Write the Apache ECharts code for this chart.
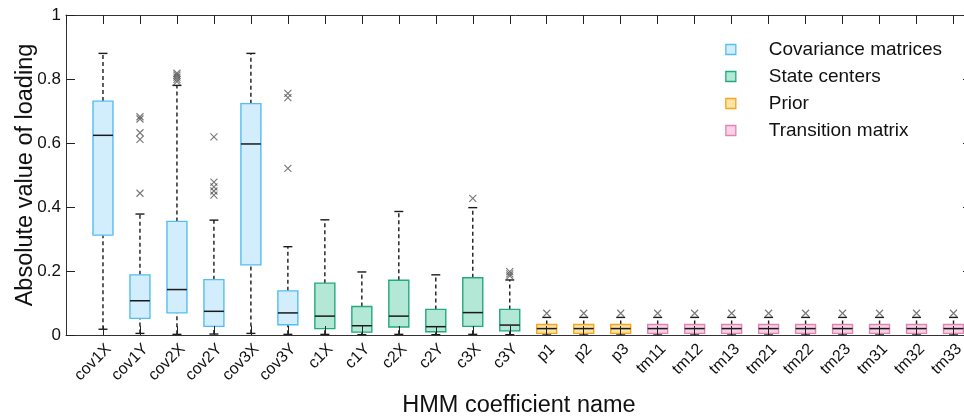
<!DOCTYPE html>
<html><head><meta charset="utf-8">
<script src="https://cdn.jsdelivr.net/npm/echarts@6/dist/echarts.min.js"></script>
<style>html,body{margin:0;padding:0;background:#fff}#c{width:964px;height:416px}</style>
</head><body><div id="c"></div>
<script>
const categories = ['cov1X','cov1Y','cov2X','cov2Y','cov3X','cov3Y','c1X','c1Y','c2X','c2Y','c3X','c3Y','p1','p2','p3','tm11','tm12','tm13','tm21','tm22','tm23','tm31','tm32','tm33'];
const groups = [0,0,0,0,0,0,1,1,1,1,1,1,2,2,2,3,3,3,3,3,3,3,3,3];
const groupNames = ['Covariance matrices','State centers','Prior','Transition matrix'];
const whiskerLow = [0.018,0.005,0.002,0.003,0.005,0.002, 0.002,0.001,0.002,0.001,0.002,0.001, 0,0,0, 0,0,0,0,0,0,0,0,0];
const q1 = [0.312,0.052,0.069,0.027,0.219,0.032, 0.020,0.009,0.025,0.010,0.027,0.013, 0.005,0.005,0.005, 0.005,0.005,0.005,0.005,0.005,0.005,0.005,0.005,0.005];
const median = [0.624,0.107,0.142,0.074,0.597,0.069, 0.059,0.029,0.059,0.026,0.070,0.031, 0.020,0.020,0.020, 0.020,0.020,0.020,0.020,0.020,0.020,0.020,0.020,0.020];
const q3 = [0.731,0.188,0.355,0.173,0.723,0.138, 0.162,0.089,0.171,0.080,0.179,0.080, 0.033,0.033,0.033, 0.033,0.033,0.033,0.033,0.033,0.033,0.033,0.033,0.033];
const whiskerHigh = [0.880,0.378,0.780,0.359,0.880,0.276, 0.360,0.197,0.386,0.188,0.398,0.172, 0.055,0.055,0.055, 0.055,0.055,0.055,0.055,0.055,0.055,0.055,0.055,0.055];
// outliers: [category index (0-based), value]
const outliers = [
  [1,0.682],[1,0.675],[1,0.632],[1,0.611],[1,0.443],
  [2,0.818],[2,0.812],[2,0.806],[2,0.799],[2,0.792],
  [3,0.619],[3,0.478],[3,0.463],[3,0.450],[3,0.437],
  [5,0.755],[5,0.742],[5,0.521],
  [10,0.427],
  [11,0.198],[11,0.191],[11,0.185],
  [12,0.068],[13,0.068],[14,0.068],[15,0.068],[16,0.068],[17,0.068],[18,0.068],[19,0.068],[20,0.068],[21,0.068],[22,0.068],[23,0.068]
];
const yTicks = [0,0.2,0.4,0.6,0.8,1];

const fills = ['#d2eefc','#b4e8d6','#fde4a6','#f9d2e6'];
const edges = ['#55bdf2','#22a97c','#f5a51e','#e283b6'];
const FONT = 'Liberation Sans, Arial, sans-serif';

function renderItem(params, api){
  const x = api.value(0);
  const g = params.seriesIndex;
  const p = v => api.coord([x, v]);
  const cx = p(0)[0];
  const half = api.coord([x+0.27,0])[0] - cx;
  const capHalf = half*0.45;
  const yLo = p(api.value(1))[1], yQ1 = p(api.value(2))[1], yMd = p(api.value(3))[1], yQ3 = p(api.value(4))[1], yHi = p(api.value(5))[1];
  const dash = {stroke:'#1a1a1a', lineWidth:1.4, lineDash:[4,3], fill:null};
  const solid = {stroke:'#1a1a1a', lineWidth:1.4, fill:null};
  return {type:'group', children:[
    {type:'line', shape:{x1:cx,y1:yQ3,x2:cx,y2:yHi}, style:dash},
    {type:'line', shape:{x1:cx,y1:yLo,x2:cx,y2:yQ1}, style:dash},
    {type:'line', shape:{x1:cx-capHalf,y1:yHi,x2:cx+capHalf,y2:yHi}, style:solid},
    {type:'line', shape:{x1:cx-capHalf,y1:yLo,x2:cx+capHalf,y2:yLo}, style:solid},
    {type:'rect', shape:{x:cx-half,y:yQ3,width:2*half,height:yQ1-yQ3}, style:{fill:fills[g], stroke:edges[g], lineWidth:1.4}},
    {type:'line', shape:{x1:cx-half,y1:yMd,x2:cx+half,y2:yMd}, style:{stroke:'#1a1a1a', lineWidth:1.5}}
  ]};
}

const series = groupNames.map((name, gi) => ({
  name: name,
  type: 'custom',
  renderItem: renderItem,
  encode: {x: 0, y: [1,2,3,4,5]},
  data: categories.map((c,i)=> groups[i]===gi ? [i+1, whiskerLow[i], q1[i], median[i], q3[i], whiskerHigh[i]] : null).filter(d=>d),
  z: 2
}));
series.push({
  name: 'outliers',
  type: 'scatter',
  symbol: 'path://M0,0L10,10M10,0L0,10',
  symbolSize: 7,
  itemStyle: {color: 'rgba(0,0,0,0)', borderColor: '#555', borderWidth: 1.1},
  data: outliers.map(o => [o[0]+1, o[1]]),
  z: 3
});

const axisLineStyle = {color:'#333', width:1};
const chart = echarts.init(document.getElementById('c'));
chart.setOption({
  animation: false,
  backgroundColor: '#fff',
  grid: {left: 66, right: -8, top: 15, bottom: 81, containLabel: false, outerBoundsMode: 'none'},
  legend: {
    top: 35, right: 17, orient: 'vertical',
    itemWidth: 10, itemHeight: 10, itemGap: 8,
    textStyle: {fontSize: 19, color: '#111', fontFamily: FONT, padding: [0,0,0,28]},
    data: groupNames.map((n,i)=>({name:n, icon:'rect', itemStyle:{color:fills[i], borderColor:edges[i], borderWidth:1.3}}))
  },
  xAxis: [{
    type: 'value', min: 0, max: 24.5, interval: 1, position: 'bottom', z: 10,
    name: 'HMM coefficient name', nameLocation: 'middle', nameGap: 59, nameMoveOverlap: false,
    nameTextStyle: {fontSize: 23.5, color: '#111', fontFamily: FONT},
    axisLine: {onZero: false, lineStyle: axisLineStyle},
    axisTick: {inside: true, length: 9, lineStyle: {color:'#222'}},
    axisLabel: {rotate: 45, fontSize: 16, color: '#111', margin: 6, fontFamily: FONT, verticalAlign: 'top',
      showMaxLabel: false, showMinLabel: false,
      formatter: v => (Number.isInteger(v) && v>=1 && v<=categories.length) ? categories[v-1] : ''},
    splitLine: {show: false}
  },{
    type: 'value', min: 0, max: 24.5, interval: 1, position: 'top', z: 10,
    axisLine: {onZero: false, lineStyle: axisLineStyle},
    axisTick: {inside: true, length: 9, lineStyle: {color:'#222'}},
    axisLabel: {show: false}, splitLine: {show: false}
  }],
  yAxis: [{
    type: 'value', min: 0, max: 1, interval: 0.2, position: 'left', z: 10,
    name: 'Absolute value of loading', nameLocation: 'middle', nameGap: 28, nameMoveOverlap: false,
    nameTextStyle: {fontSize: 23.5, color: '#111', fontFamily: FONT},
    axisLine: {show: true, onZero: false, lineStyle: axisLineStyle},
    axisTick: {show: true, inside: true, length: 9, lineStyle: {color:'#222'}},
    axisLabel: {fontSize: 17, color: '#111', margin: 5, fontFamily: FONT,
      formatter: v => { const t = yTicks.find(k => Math.abs(k-v)<1e-9); return t===undefined ? '' : String(t); }},
    splitLine: {show: false}
  },{
    type: 'value', min: 0, max: 1, interval: 0.2, position: 'right', z: 10,
    axisLine: {show: true, onZero: false, lineStyle: axisLineStyle},
    axisTick: {show: true, inside: true, length: 9, lineStyle: {color:'#222'}},
    axisLabel: {show: false}, splitLine: {show: false}
  }],
  series: series
});
</script></body></html>
